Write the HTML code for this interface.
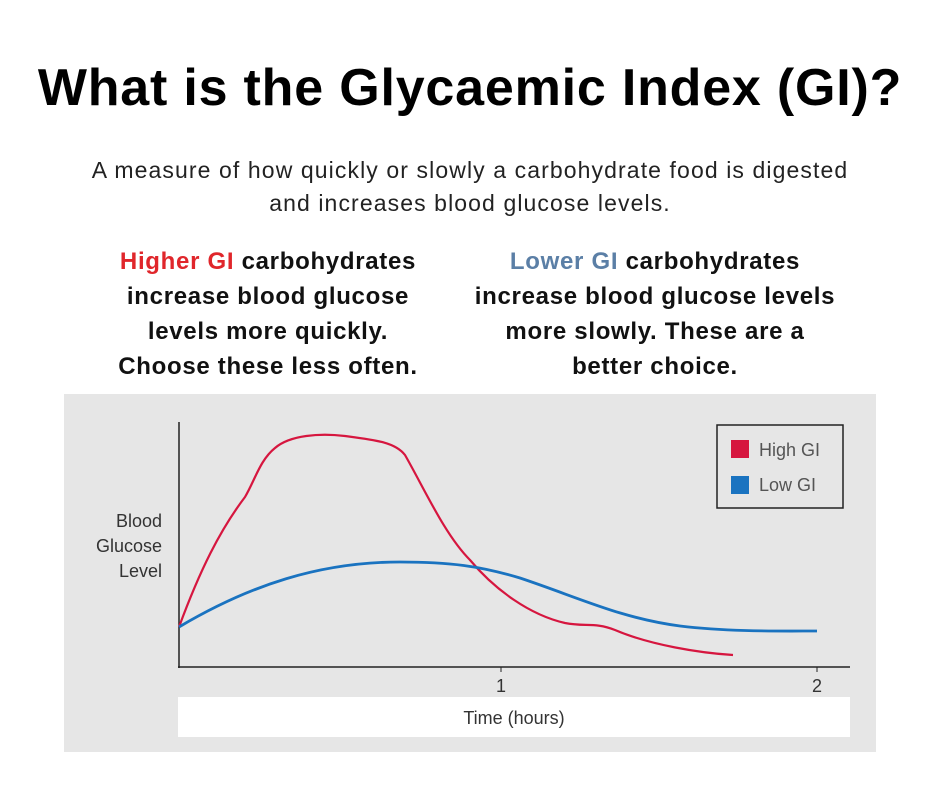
<!DOCTYPE html>
<html><head><style>
body{margin:0;width:940px;height:788px;background:#fff;font-family:"Liberation Sans",sans-serif;position:relative;overflow:hidden}
.t{position:absolute;left:0;width:940px;top:58px;text-align:center;font-weight:bold;font-size:52px;color:#000;letter-spacing:0.8px}
.s{position:absolute;left:0;width:940px;top:154px;text-align:center;font-size:23px;line-height:33px;color:#222;letter-spacing:1.1px}
.c{position:absolute;top:244px;text-align:center;font-weight:bold;font-size:24px;line-height:35px;color:#111;letter-spacing:0.7px}
</style></head><body>
<div class="t">What is the Glycaemic Index (GI)?</div>
<div class="s">A measure of how quickly or slowly a carbohydrate food is digested<br>and increases blood glucose levels.</div>
<div class="c" style="left:68px;width:400px"><span style="color:#e0262b">Higher GI</span> carbohydrates<br>increase blood glucose<br>levels more quickly.<br>Choose these less often.</div>
<div class="c" style="left:435px;width:440px"><span style="color:#5b7fa6">Lower GI</span> carbohydrates<br>increase blood glucose levels<br>more slowly. These are a<br>better choice.</div>
<svg style="position:absolute;left:0;top:0" width="940" height="788">
<rect x="64" y="394" width="812" height="358" fill="#e6e6e6"/>
<rect x="178" y="697" width="672" height="40" fill="#fff"/>
<line x1="179" y1="422" x2="179" y2="668" stroke="#222" stroke-width="1.5"/>
<line x1="178" y1="667" x2="850" y2="667" stroke="#222" stroke-width="1.5"/>
<line x1="501" y1="667" x2="501" y2="672" stroke="#222"/>
<line x1="817" y1="667" x2="817" y2="672" stroke="#222"/>
<g font-family="Liberation Sans,sans-serif" fill="#333" font-size="18">
<text x="501" y="692" text-anchor="middle">1</text>
<text x="817" y="692" text-anchor="middle">2</text>
<text x="514" y="724" text-anchor="middle">Time (hours)</text>
<text x="162" y="527" text-anchor="end">Blood</text>
<text x="162" y="552" text-anchor="end">Glucose</text>
<text x="162" y="577" text-anchor="end">Level</text>
</g>
<rect x="717" y="425" width="126" height="83" fill="none" stroke="#222" stroke-width="1.5"/>
<rect x="731" y="440" width="18" height="18" fill="#d6163f"/>
<rect x="731" y="476" width="18" height="18" fill="#1a73c0"/>
<g font-family="Liberation Sans,sans-serif" fill="#555" font-size="18">
<text x="759" y="456">High GI</text>
<text x="759" y="491">Low GI</text>
</g>
<path d="M179,627 C200,570 220,530 245,497 C255,480 260,460 275,448 C290,435 320,433 345,436 C375,440 395,442 405,455 C425,490 445,535 470,560 C495,590 530,615 565,623 C585,627 595,622 615,630 C650,645 700,653 733,655" fill="none" stroke="#d6163f" stroke-width="2.2"/>
<path d="M179,627 C250,585 320,562 400,562 C450,562 480,566 520,578 C580,598 620,618 680,626 C730,632 780,631 817,631" fill="none" stroke="#1a73c0" stroke-width="2.8"/>
</svg>
</body></html>
